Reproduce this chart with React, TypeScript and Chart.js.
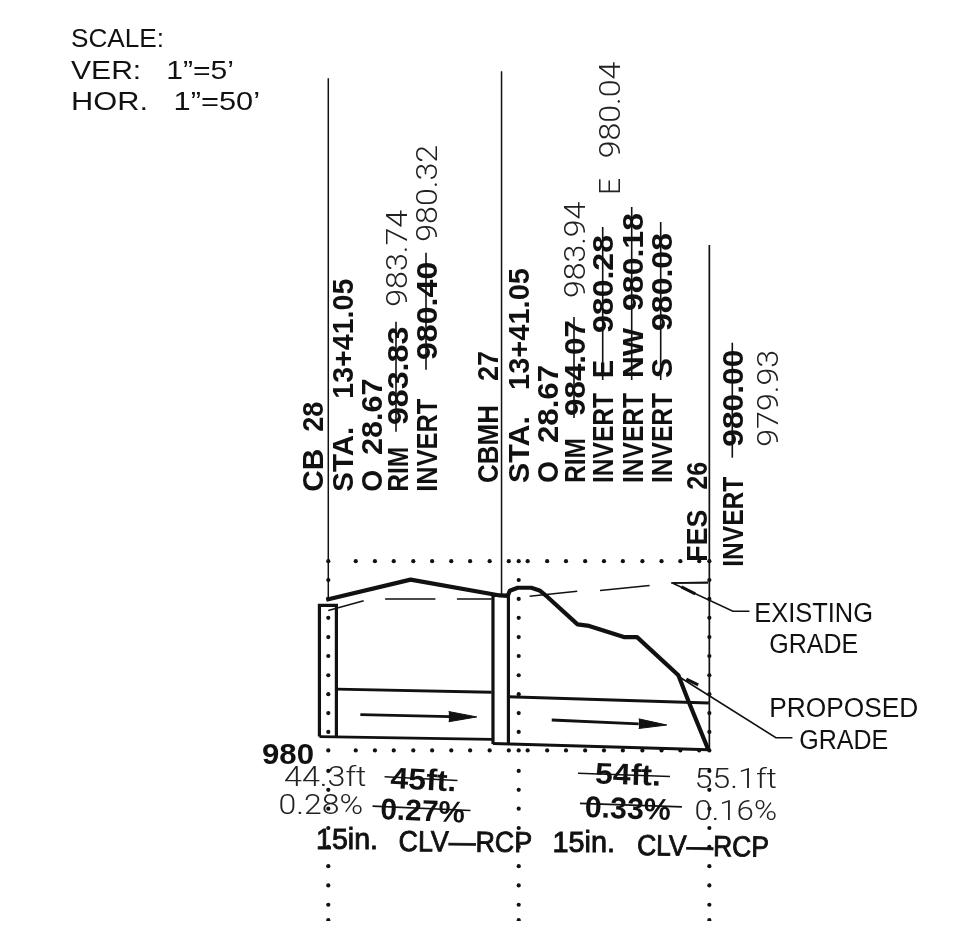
import React, { useEffect, useRef } from "react";
import { Chart, registerables } from "chart.js";

Chart.register(...registerables);

// ---- Text ----
const scaleNotes = ["SCALE:", "VER:   1”=5’", "HOR.   1”=50’"];
const cbLabels = ["CB", "28", "STA.", "13+41.05", "O", "28.67", "RIM", "983.83", "INVERT", "980.40"];
const cbRevised = ["983.74", "980.32"];
const mhLabels = ["CBMH", "27", "STA.", "13+41.05", "O", "28.67", "RIM", "984.07", "INVERT", "E", "980.28", "INVERT", "NW", "980.18", "INVERT", "S", "980.08"];
const mhRevised = ["983.94", "E", "980.04"];
const fesLabels = ["FES", "26", "INVERT", "980.00"];
const fesRevised = ["979.93"];
const elevationLabel = "980";
const runLengths = ["44.3ft", "45ft.", "54ft.", "55.1ft"];
const runSlopes = ["0.28%", "0.27%", "0.33%", "0.16%"];
const pipeNames = ["15in.", "CLV—RCP", "15in.", "CLV—RCP"];
const calloutLabels = ["EXISTING", "GRADE", "PROPOSED", "GRADE"];

// ---- Values: station in feet from CB 28, elevation in feet ----
const proposedStation = [-0.51, 21.34, 44.48, 46.54, 47.06, 49.11, 52.64, 54.77, 56.83, 64.62, 67.63, 76.63, 80.05, 90.77, 93.34, 98.48];
const proposedElevation = [983.91, 984.43, 984.02, 984.01, 984.14, 984.22, 984.22, 984.15, 983.98, 983.27, 983.23, 982.94, 982.94, 981.95, 981.29, 980.03];

const existingStation = [0, 9.18, null, 14.73, 27.77, null, 33.35, 42.35, null, 52.2, 64.54, null, 70.46, 83.31, null, 88.89, 98.48];
const existingElevation = [983.63, 983.88, null, 983.93, 983.93, null, 983.93, 983.93, null, 984.0, 984.13, null, 984.15, 984.28, null, 984.34, 984.36];

const pipe1TopStation = [2.06, 42.35];
const pipe1TopElevation = [981.59, 981.51];
const pipe1BottomStation = [-2.3, 42.6];
const pipe1BottomElevation = [980.36, 980.29];
const pipe2TopStation = [46.62, 98.66];
const pipe2TopElevation = [981.39, 981.23];
const pipe2BottomStation = [42.68, 98.66];
const pipe2BottomElevation = [980.18, 980.02];

const cbBoxStation = [-2.3, -2.3, 2.1, 2.1];
const cbBoxElevation = [980.36, 983.76, 983.76, 980.36];
const mhBoxStation = [42.7, 42.7, 46.7, 46.7];
const mhBoxElevation = [980.17, 984.02, 984.02, 980.17];

const cbLineStation = [0, 0];
const cbLineElevation = [997.43, 983.93];
const mhLineStation = [44.92, 44.92];
const mhLineElevation = [997.61, 984.01];
const fesLineStation = [98.8, 98.8];
const fesLineElevation = [993.11, 980.03];

const flow1ShaftStation = [8.31, 31.63];
const flow1ShaftElevation = [980.93, 980.88];
const flow1HeadUpperStation = [31.2, 38.49];
const flow1HeadUpperElevation = [981.01, 980.87];
const flow1HeadLowerStation = [31.2, 38.49];
const flow1HeadLowerElevation = [980.745, 980.87];
const flow2ShaftStation = [57.93, 80.48];
const flow2ShaftElevation = [980.79, 980.69];
const flow2HeadUpperStation = [80.48, 87.76];
const flow2HeadUpperElevation = [980.82, 980.66];
const flow2HeadLowerStation = [80.48, 87.76];
const flow2HeadLowerElevation = [980.57, 980.66];

const existingLeaderStation = [89.05, 98.48, null, 89.48, 104.91, 109.2];
const existingLeaderElevation = [984.34, 984.34, null, 984.33, 983.61, 983.61];
const existingTickStation = [91.54, 95.14];
const existingTickElevation = [984.24, 984.06];
const proposedLeaderStation = [90.33, 116.05, 120.34];
const proposedLeaderElevation = [981.95, 980.33, 980.33];
const proposedTickStation = [92.83, 95.91];
const proposedTickElevation = [981.85, 981.7];

const rowStations = [7.12, 12.09, 16.97, 22.04, 26.92, 31.88, 36.77, 41.84, 46.8, 51.69, 56.75, 61.63, 66.6, 71.48, 76.37, 81.44, 86.4, 91.28, 96.17];
const rowElevations = [984.91, 980];
const columnStations = [0, 49.37, 98.8];
const columnElevations = [984.91, 984.42, 983.93, 983.44, 982.94, 982.45, 981.95, 981.46, 980.97, 980.48, 980, 979.47, 978.98, 978.49, 977.99, 977.5, 977.0, 976.5, 976.0, 975.6];

// ---- Scale of the plot: the axes span the whole sheet ----
const STATION_MIN = -84.08;
const STATION_MAX = 165.6;
const ELEVATION_MIN = 975.578;
const ELEVATION_MAX = 999.357;

const INK = "#111111";
const THIN = "#222222";

function zip(xs: (number | null)[], ys: (number | null)[]) {
  return xs.map((x, i) => ({ x, y: ys[i] }));
}

function line(xs: (number | null)[], ys: (number | null)[], width: number, extra: object = {}) {
  return {
    data: zip(xs, ys),
    showLine: true,
    borderColor: INK,
    backgroundColor: INK,
    borderWidth: width,
    pointRadius: 0,
    spanGaps: false,
    tension: 0,
    ...extra,
  };
}

type Label = {
  t: string;
  x: number;
  y: number;
  w: number;
  s: number;
  k: "n" | "b" | "g" | "m";
  r?: number;
  strike?: [number, number, number];
};

// Rotated part of a structure note: base line x, start y, offset along the note, length.
function up(t: string, x: number, y: number, off: number, w: number, k: "b" | "g" = "b", strike?: [number, number, number]): Label {
  return { t, x, y: y - off, w, s: 30, k, r: -90, strike };
}

const layout: Label[] = [
  { t: scaleNotes[0], x: 71, y: 47, w: 93, s: 26, k: "n" },
  { t: scaleNotes[1], x: 71, y: 79, w: 163, s: 26, k: "n" },
  { t: scaleNotes[2], x: 71, y: 110, w: 189, s: 26, k: "n" },

  up(cbLabels[0], 323, 491.7, 0, 43),
  up(cbLabels[1], 323, 491.7, 60, 30),
  up(cbLabels[2], 352.7, 491.7, 0, 65),
  up(cbLabels[3], 352.7, 491.7, 93, 120),
  up(cbLabels[4], 381.7, 491.7, 0, 22),
  up(cbLabels[5], 381.7, 491.7, 36.7, 76.6),
  up(cbLabels[6], 408, 491.7, 0, 45, "b", [60, 170, 12]),
  up(cbLabels[7], 408, 491.7, 66.7, 98.3),
  up(cbLabels[8], 436.7, 491.7, 0, 93, "b", [122, 239, 10.7]),
  up(cbLabels[9], 436.7, 491.7, 131.7, 98.3),
  up(cbRevised[0], 406.7, 306.7, 0, 96.7, "g"),
  up(cbRevised[1], 436.7, 241.7, 0, 96.7, "g"),

  up(mhLabels[0], 498.3, 483, 0, 78),
  up(mhLabels[1], 498.3, 483, 102, 30),
  up(mhLabels[2], 529.3, 483, 0, 67),
  up(mhLabels[3], 529.3, 483, 93, 122),
  up(mhLabels[4], 558.3, 483, 0, 22),
  up(mhLabels[5], 558.3, 483, 40, 78),
  up(mhLabels[6], 585, 483, 0, 45, "b", [65, 166, 11]),
  up(mhLabels[7], 585, 483, 67, 96),
  up(mhLabels[8], 613, 483, 0, 90, "b", [103, 256, 10.3]),
  up(mhLabels[9], 613, 483, 105, 18),
  up(mhLabels[10], 613, 483, 150, 98),
  up(mhLabels[11], 642.7, 483, 0, 90, "b", [103, 276, 11]),
  up(mhLabels[12], 642.7, 483, 105, 50),
  up(mhLabels[13], 642.7, 483, 172, 98),
  up(mhLabels[14], 671.7, 483, 0, 90, "b", [103, 261, 11]),
  up(mhLabels[15], 671.7, 483, 105, 20),
  up(mhLabels[16], 671.7, 483, 152, 98),
  up(mhRevised[0], 585, 298, 0, 96.3, "g"),
  up(mhRevised[1], 620, 195, 0, 17, "g"),
  up(mhRevised[2], 620, 195, 36.7, 96.6, "g"),

  up(fesLabels[0], 706.7, 566.7, 5, 52),
  up(fesLabels[1], 706.7, 566.7, 77, 28),
  up(fesLabels[2], 743, 566.7, 0, 90, "b", [109, 224, 10.7]),
  up(fesLabels[3], 743, 566.7, 120, 97),
  up(fesRevised[0], 778, 446.7, 0, 96.7, "g"),

  { t: elevationLabel, x: 262, y: 764, w: 52, s: 30, k: "b" },
  { t: runLengths[0], x: 284, y: 786, w: 82.5, s: 28, k: "g" },
  { t: runLengths[1], x: 390, y: 788, w: 66, s: 30, k: "b", r: 3, strike: [-6, 67, 11] },
  { t: runLengths[2], x: 594.7, y: 783.4, w: 66, s: 30, k: "b", r: 2, strike: [-17, 75, 9.5] },
  { t: runLengths[3], x: 694.4, y: 788, w: 82.6, s: 28, k: "g" },
  { t: runSlopes[0], x: 278.6, y: 814, w: 84.5, s: 28, k: "g" },
  { t: runSlopes[1], x: 380, y: 819, w: 84.5, s: 30, k: "b", r: 2.5, strike: [-8, 90, 12.5] },
  { t: runSlopes[2], x: 584.5, y: 817, w: 86, s: 30, k: "b", r: 2, strike: [-5, 97, 13.5] },
  { t: runSlopes[3], x: 694.4, y: 819.6, w: 82.6, s: 28, k: "g" },
  { t: pipeNames[0], x: 316, y: 849, w: 62, s: 29, k: "m" },
  { t: pipeNames[1], x: 398.6, y: 851, w: 133.4, s: 29, k: "m", r: 0.5 },
  { t: pipeNames[2], x: 552.4, y: 851.7, w: 62.6, s: 29, k: "m" },
  { t: pipeNames[3], x: 637, y: 855, w: 131.8, s: 29, k: "m", r: 0.8 },

  { t: calloutLabels[0], x: 754.3, y: 621.7, w: 118.7, s: 27, k: "n" },
  { t: calloutLabels[1], x: 769.3, y: 653.3, w: 89, s: 27, k: "n" },
  { t: calloutLabels[2], x: 769.3, y: 716.7, w: 149, s: 27, k: "n" },
  { t: calloutLabels[3], x: 799.3, y: 749, w: 89, s: 27, k: "n" },
];

const sheetText = {
  id: "sheetText",
  afterDatasetsDraw(chart: Chart) {
    const ctx = chart.ctx;
    for (const l of layout) {
      ctx.save();
      ctx.translate(l.x, l.y);
      ctx.rotate(((l.r ?? 0) * Math.PI) / 180);
      ctx.font =
        l.k === "b"
          ? `bold ${l.s}px "Liberation Sans", Arial, sans-serif`
          : l.k === "g"
            ? `300 ${l.s}px Roboto, "Liberation Sans", sans-serif`
            : `${l.s}px "Liberation Sans", Arial, sans-serif`;
      ctx.textBaseline = "alphabetic";
      ctx.textAlign = "left";
      const color = l.k === "g" ? THIN : INK;
      ctx.fillStyle = color;
      ctx.strokeStyle = color;
      if (l.strike) {
        ctx.lineWidth = 1.6;
        ctx.beginPath();
        ctx.moveTo(l.strike[0], -l.strike[2]);
        ctx.lineTo(l.strike[1], -l.strike[2]);
        ctx.stroke();
      }
      ctx.scale(l.w / ctx.measureText(l.t).width, 1);
      ctx.fillText(l.t, 0, 0);
      if (l.k === "m") {
        ctx.lineWidth = 0.9;
        ctx.strokeText(l.t, 0, 0);
      }
      ctx.restore();
    }
  },
};

export default function App() {
  const ref = useRef<HTMLCanvasElement | null>(null);

  useEffect(() => {
    if (!ref.current) return;
    const dots = [
      ...rowElevations.flatMap((y) => rowStations.map((x) => ({ x, y }))),
      ...columnStations.flatMap((x) => columnElevations.map((y) => ({ x, y }))),
    ];
    const chart = new Chart(ref.current, {
      type: "scatter",
      data: {
        datasets: [
          { label: "Grid", data: dots, showLine: false, pointRadius: 2.1, pointBackgroundColor: INK, pointBorderWidth: 0 },
          { label: "CB 28", ...line(cbLineStation, cbLineElevation, 1.5) },
          { label: "CBMH 27", ...line(mhLineStation, mhLineElevation, 1.5) },
          { label: "FES 26", ...line(fesLineStation, fesLineElevation, 1.7) },
          { label: "Existing grade", ...line(existingStation, existingElevation, 1.5) },
          { label: "Proposed grade", ...line(proposedStation, proposedElevation, 4.2, { borderJoinStyle: "round" }) },
          { label: "Pipe 1 crown", ...line(pipe1TopStation, pipe1TopElevation, 2.8) },
          { label: "Pipe 1 invert", ...line(pipe1BottomStation, pipe1BottomElevation, 2.8) },
          { label: "Pipe 2 crown", ...line(pipe2TopStation, pipe2TopElevation, 3) },
          { label: "Pipe 2 invert", ...line(pipe2BottomStation, pipe2BottomElevation, 3) },
          { label: "CB box", ...line(cbBoxStation, cbBoxElevation, 3.2) },
          { label: "CBMH box", ...line(mhBoxStation, mhBoxElevation, 3.2) },
          { label: "Flow 1", ...line(flow1ShaftStation, flow1ShaftElevation, 2.8) },
          { label: "Flow 1 head", ...line(flow1HeadUpperStation, flow1HeadUpperElevation, 1, { fill: "+1" }) },
          { label: "Flow 1 head low", ...line(flow1HeadLowerStation, flow1HeadLowerElevation, 1) },
          { label: "Flow 2", ...line(flow2ShaftStation, flow2ShaftElevation, 2.8) },
          { label: "Flow 2 head", ...line(flow2HeadUpperStation, flow2HeadUpperElevation, 1, { fill: "+1" }) },
          { label: "Flow 2 head low", ...line(flow2HeadLowerStation, flow2HeadLowerElevation, 1) },
          { label: "Existing leader", ...line(existingLeaderStation, existingLeaderElevation, 1.5) },
          { label: "Existing tick", ...line(existingTickStation, existingTickElevation, 3) },
          { label: "Proposed leader", ...line(proposedLeaderStation, proposedLeaderElevation, 1.6) },
          { label: "Proposed tick", ...line(proposedTickStation, proposedTickElevation, 3) },
        ] as any,
      },
      options: {
        animation: false,
        responsive: false,
        devicePixelRatio: 1,
        layout: { padding: 0 },
        plugins: { legend: { display: false }, tooltip: { enabled: false }, title: { display: false } },
        scales: {
          x: { type: "linear", min: STATION_MIN, max: STATION_MAX, display: false },
          y: { type: "linear", min: ELEVATION_MIN, max: ELEVATION_MAX, display: false },
        },
      },
      plugins: [sheetText],
    });
    return () => chart.destroy();
  }, []);

  return (
    <canvas
      ref={ref}
      width={971}
      height={925}
      style={{ position: "fixed", left: 0, top: 0, width: 971, height: 925, background: "#fff" }}
    />
  );
}
